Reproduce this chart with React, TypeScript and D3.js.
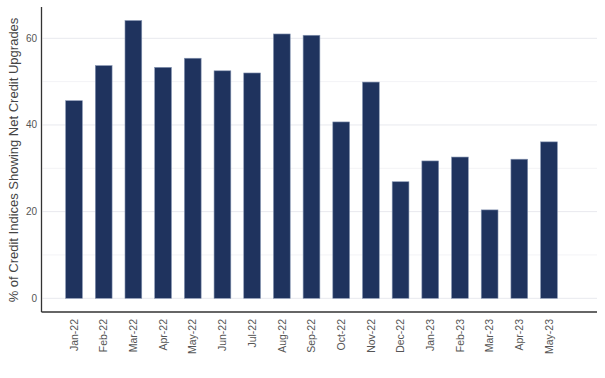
import React from "react";
import * as d3 from "d3";

const categories = ["Jan-22","Feb-22","Mar-22","Apr-22","May-22","Jun-22","Jul-22","Aug-22","Sep-22","Oct-22","Nov-22","Dec-22","Jan-23","Feb-23","Mar-23","Apr-23","May-23"];
const values = [45.6, 53.7, 64.1, 53.3, 55.4, 52.5, 52.0, 61.0, 60.7, 40.7, 49.9, 26.9, 31.7, 32.6, 20.4, 32.1, 36.1];
const majorTicks = [0, 20, 40, 60];
const minorTicks = [10, 30, 50];
const yTitle = "% of Credit Indices Showing Net Credit Upgrades";

const W = 605, H = 378;
const plotLeft = 41.5, plotRight = 597, plotTop = 7, plotBottom = 312;

export default function App() {
  const x = d3.scalePoint<string>().domain(categories).range([74, 549]);
  const step = x.step();
  const barW = step * 0.565;
  const y = d3.scaleLinear().domain([0, 60]).range([298.3, 38.3]);
  const font = "'Liberation Sans', Arial, sans-serif";
  return (
    <svg width={W} height={H} style={{ position: "absolute", left: 0, top: 0, background: "#fff" }}>
      {minorTicks.map((t) => (
        <line key={"m" + t} x1={plotLeft + 1} x2={plotRight} y1={y(t)} y2={y(t)} stroke="#f3f3f6" strokeWidth={1} />
      ))}
      {majorTicks.map((t) => (
        <line key={"g" + t} x1={plotLeft + 1} x2={plotRight} y1={y(t)} y2={y(t)} stroke="#e8e9ee" strokeWidth={1} />
      ))}
      {categories.map((c, i) => (
        <rect key={c} x={(x(c) as number) - barW / 2} y={y(values[i])} width={barW} height={y(0) - y(values[i])}
          fill="#1f335e" stroke="#8796b3" strokeWidth={0.6} />
      ))}
      <line x1={plotLeft} x2={plotLeft} y1={plotTop} y2={plotBottom} stroke="#333" strokeWidth={1.3} />
      <line x1={plotLeft} x2={plotRight} y1={plotBottom} y2={plotBottom} stroke="#333" strokeWidth={1.3} />
      {majorTicks.map((t) => (
        <text key={"t" + t} x={37} y={y(t)} dy="0.35em" textAnchor="end" fontSize={10} fill="#555" fontFamily={font}>{t}</text>
      ))}
      {categories.map((c) => (
        <text key={"l" + c} transform={`translate(${x(c)},319) rotate(-90)`} textAnchor="end" dy="0.35em" fontSize={10.5} fill="#555" fontFamily={font}>{c}</text>
      ))}
      <text transform={`translate(13,160) rotate(-90)`} textAnchor="middle" dy="0.35em" fontSize={13} fill="#444" fontFamily={font}>{yTitle}</text>
    </svg>
  );
}
